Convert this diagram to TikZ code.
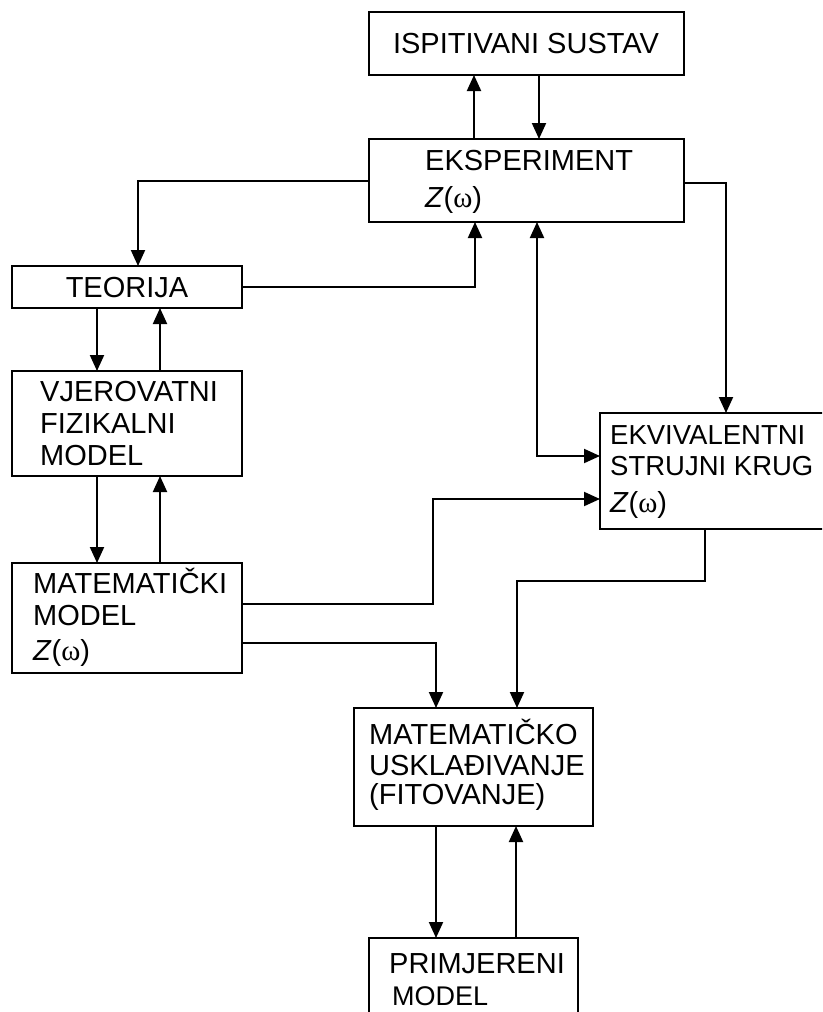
\documentclass[tikz,border=0pt]{standalone}
\usepackage{fontspec}
\setmainfont{Liberation Sans}
\newfontfamily\symfont{Liberation Serif}
\usetikzlibrary{arrows.meta}
\newcommand{\Zw}{\textit{Z}({\symfont ω})}
\begin{document}
\begin{tikzpicture}[x=1pt,y=-1pt,
  box/.style={draw, line width=2pt, inner sep=0pt, outer sep=0pt},
  lbl/.style={anchor=base west, inner sep=0pt, font=\fontsize{29}{33}\selectfont},
  lblc/.style={anchor=base, inner sep=0pt, font=\fontsize{29}{33}\selectfont},
  conn/.style={line width=2pt},
  arr/.style={conn, -{Triangle[length=16pt,width=14pt]}},
  darr/.style={conn, {Triangle[length=16pt,width=14pt]}-{Triangle[length=16pt,width=14pt]}}]
\clip (0,0) rectangle (822,1012);
\fill[white] (0,0) rectangle (822,1012);

% boxes
\node[box, minimum width=315pt, minimum height=63pt] (isp) at (526.5,43.5) {};
\node[box, minimum width=315pt, minimum height=83pt] (eks) at (526.5,180.5) {};
\node[box, minimum width=230pt, minimum height=42pt] (teo) at (127,287) {};
\node[box, minimum width=230pt, minimum height=105pt] (vje) at (127,423.5) {};
\node[box, minimum width=230pt, minimum height=110pt] (mat) at (127,618) {};
\node[box, minimum width=240pt, minimum height=116pt] (ekv) at (720,471) {};
\node[box, minimum width=239pt, minimum height=118pt] (usk) at (473.5,767) {};
\node[box, minimum width=209pt, minimum height=102pt] (pri) at (473.5,989) {};

% texts
\node[lblc] (ispT) at (526,53) {ISPITIVANI SUSTAV};
\node[lbl] (eksT1) at (425,170) {EKSPERIMENT};
\node[lbl] (eksT2) at (425,207) {\Zw};
\node[lblc] (teoT) at (127,297) {TEORIJA};
\node[lbl] (vjeT1) at (40,401) {VJEROVATNI};
\node[lbl] (vjeT2) at (40,433) {FIZIKALNI};
\node[lbl] (vjeT3) at (40,465) {MODEL};
\node[lbl] (matT1) at (33,593) {MATEMATIČKI};
\node[lbl] (matT2) at (33,625) {MODEL};
\node[lbl] (matT3) at (33,660) {\Zw};
\node[lbl, font=\fontsize{27.5}{31}\selectfont] (ekvT1) at (610,444) {EKVIVALENTNI};
\node[lbl, font=\fontsize{27.5}{31}\selectfont] (ekvT2) at (610,475) {STRUJNI KRUG};
\node[lbl] (ekvT3) at (610,512) {\Zw};
\node[lbl] (uskT1) at (369,744) {MATEMATIČKO};
\node[lbl] (uskT2) at (369,775) {USKLAĐIVANJE};
\node[lbl] (uskT3) at (369,804) {(FITOVANJE)};
\node[lbl] (priT1) at (389,973) {PRIMJERENI};
\node[lbl, font=\fontsize{27}{31}\selectfont] (priT2) at (392,1005) {MODEL};

% connectors
\draw[arr] ([xshift=105pt]eks.north west) -- ([xshift=105pt]isp.south west);
\draw[arr] ([xshift=170pt]isp.south west) -- ([xshift=170pt]eks.north west);
\draw[arr] (eks.west) -| ([xshift=126pt]teo.north west);
\draw[arr] (teo.east) -| ([xshift=106pt]eks.south west);
\draw[darr] ([xshift=168pt]eks.south west) |- ([yshift=-43pt]ekv.north west);
\draw[arr] ([yshift=-2pt]eks.east) -| ([xshift=126pt]ekv.north west);
\draw[arr] ([xshift=85pt]teo.south west) -- ([xshift=85pt]vje.north west);
\draw[arr] ([xshift=148pt]vje.north west) -- ([xshift=148pt]teo.south west);
\draw[arr] ([xshift=85pt]vje.south west) -- ([xshift=85pt]mat.north west);
\draw[arr] ([xshift=148pt]mat.north west) -- ([xshift=148pt]vje.south west);
\draw[arr] ([yshift=-41pt]mat.north east) -| ([xshift=-167pt,yshift=-86pt]ekv.north west) -- ([yshift=-86pt]ekv.north west);
\draw[arr] ([yshift=-80pt]mat.north east) -| ([xshift=82pt]usk.north west);
\draw[arr] ([xshift=105pt]ekv.south west) |- ([xshift=163pt,yshift=127pt]usk.north west) -- ([xshift=163pt]usk.north west);
\draw[arr] ([xshift=82pt]usk.south west) -- ([xshift=67pt]pri.north west);
\draw[arr] ([xshift=147pt]pri.north west) -- ([xshift=162pt]usk.south west);
\end{tikzpicture}
\end{document}
